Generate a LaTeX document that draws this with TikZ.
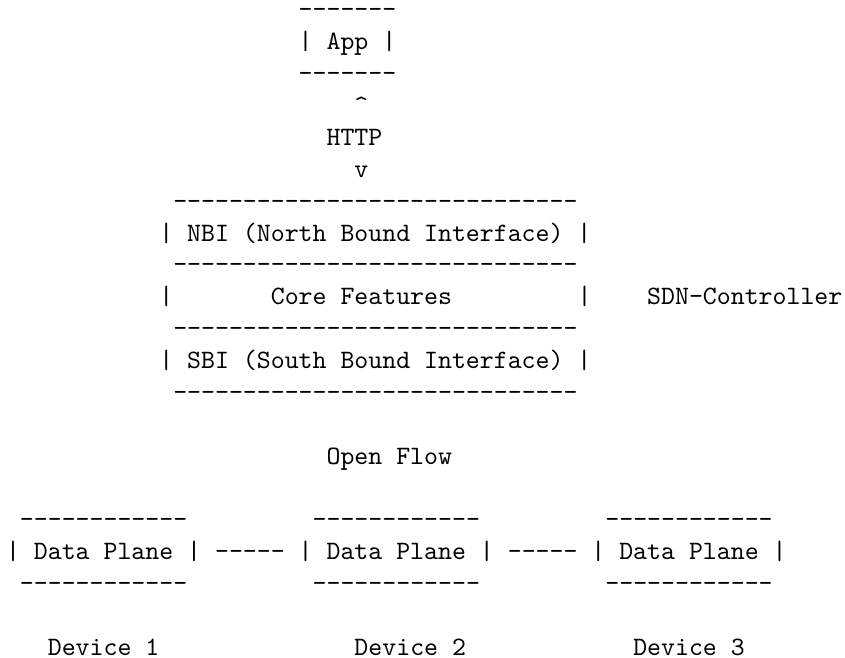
\documentclass[tikz,border=0pt]{standalone}
\newcommand\asciifont{\ttfamily\fontsize{10pt}{12pt}\selectfont
  \fontdimen2\font=5.25pt\fontdimen3\font=0pt\fontdimen4\font=0pt\fontdimen7\font=0pt}
\begin{document}
\begin{tikzpicture}[x=5.25pt,y=-12pt,
  txt/.style={inner sep=0pt,outer sep=0pt,anchor=base west,font=\asciifont}]
\useasboundingbox (-2.27pt,6.78pt) rectangle (316.0pt,-241.0pt);
% App box
\node[txt] (apptop) at (21,0) {-------};
\node[txt] (app)    at (21,1) {| App |};
\node[txt] (appbot) at (21,2) {-------};
% HTTP link
\node[txt] (up)     at (25,3) {\textasciicircum};
\node[txt] (http)   at (23,4) {HTTP};
\node[txt] (down)   at (25,5) {v};
% Controller
\node[txt] (nbitop) at (12,6) {-----------------------------};
\node[txt] (nbi)    at (11,7) {| NBI (North Bound Interface) |};
\node[txt] (nbibot) at (12,8) {-----------------------------};
\node[txt] (coreL)  at (11,9) {|};
\node[txt] (core)   at (19,9) {Core Features};
\node[txt] (coreR)  at (41,9) {|};
\node[txt] (sdn)    at (46,9) {SDN-Controller};
\node[txt] (sbitop) at (12,10) {-----------------------------};
\node[txt] (sbi)    at (11,11) {| SBI (South Bound Interface) |};
\node[txt] (sbibot) at (12,12) {-----------------------------};
% Open Flow
\node[txt] (of)     at (23,14) {Open Flow};
% Data planes
\node[txt] (dp1top) at (1,16)  {------------};
\node[txt] (dp2top) at (22,16) {------------};
\node[txt] (dp3top) at (43,16) {------------};
\node[txt] (dp1)    at (0,17)  {| Data Plane |};
\node[txt] (l12)    at (15,17) {-----};
\node[txt] (dp2)    at (21,17) {| Data Plane |};
\node[txt] (l23)    at (36,17) {-----};
\node[txt] (dp3)    at (42,17) {| Data Plane |};
\node[txt] (dp1bot) at (1,18)  {------------};
\node[txt] (dp2bot) at (22,18) {------------};
\node[txt] (dp3bot) at (43,18) {------------};
% Devices
\node[txt] (dev1)   at (3,20)  {Device 1};
\node[txt] (dev2)   at (25,20) {Device 2};
\node[txt] (dev3)   at (45,20) {Device 3};
\end{tikzpicture}
\end{document}
